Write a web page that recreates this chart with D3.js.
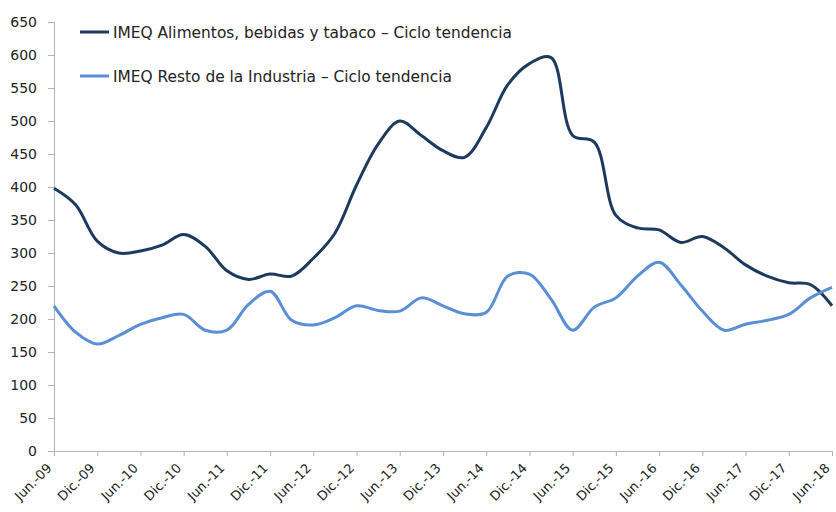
<!DOCTYPE html>
<html><head><meta charset="utf-8">
<script src="https://cdn.jsdelivr.net/npm/d3@7"></script>
<style>body{margin:0;background:#fff}svg{display:block}</style>
</head><body><svg id="c" width="836" height="512"></svg>
<script>
const tickLabels = ["Jun.-09","Dic.-09","Jun.-10","Dic.-10","Jun.-11","Dic.-11","Jun.-12","Dic.-12","Jun.-13","Dic.-13","Jun.-14","Dic.-14","Jun.-15","Dic.-15","Jun.-16","Dic.-16","Jun.-17","Dic.-17","Jun.-18"];
// quarterly observations, index 0 = Jun-09 ... 36 = Jun-18
const alimentos = [398,373,318,300,303,312,328,310,273,260,268,265,292,330,403,465,500,478,455,445,490,555,587,596,478,468,357,338,335,316,325,308,282,265,255,252,220];
const resto = [220,180,162,175,192,202,207,183,183,222,242,198,191,202,220,213,212,232,220,208,210,265,268,230,183,218,232,265,286,252,212,183,192,198,207,232,248];
const seriesNames = ["IMEQ Alimentos, bebidas y tabaco \u2013 Ciclo tendencia","IMEQ Resto de la Industria \u2013 Ciclo tendencia"];
const colors = ["#1c3a5e","#5a8fd6"];
const yTicks = d3.range(0,651,50);

const svg = d3.select("#c");
const x = d3.scaleLinear().domain([0,36]).range([54,832]);
const y = d3.scaleLinear().domain([0,650]).range([451,22]);
const font = "'DejaVu Sans', sans-serif";

// y axis
const ya = svg.append("g").attr("transform","translate(54,0)")
  .call(d3.axisLeft(y).tickValues(yTicks).tickSize(6).tickPadding(11));
ya.select(".domain").attr("stroke","#b3b3b3");
ya.selectAll(".tick line").attr("stroke","#b3b3b3");
ya.selectAll("text").attr("font-family",font).attr("font-size",14).attr("fill","#222");

// x axis
const xa = svg.append("g").attr("transform","translate(0,451)")
  .call(d3.axisBottom(x).tickValues(d3.range(0,37,2)).tickFormat((d,i)=>tickLabels[i]).tickSize(5).tickSizeOuter(0));
xa.select(".domain").attr("stroke","#b3b3b3");
xa.selectAll(".tick line").attr("stroke","#b3b3b3");
xa.selectAll("text").attr("font-family",font).attr("font-size",13).attr("fill","#222")
  .attr("text-anchor","end").attr("dy",0).attr("y",0)
  .attr("transform","translate(-2,18) rotate(-45)");

const line = d3.line().x((d,i)=>x(i)).y(d=>y(d)).curve(d3.curveCatmullRom.alpha(0.5));
[alimentos,resto].forEach((s,k)=>{
  svg.append("path").datum(s).attr("d",line).attr("fill","none")
    .attr("stroke",colors[k]).attr("stroke-width",3).attr("stroke-linejoin","round");
});

// legend
seriesNames.forEach((n,k)=>{
  const yy = k===0?32:76;
  svg.append("line").attr("x1",80).attr("x2",109).attr("y1",yy).attr("y2",yy)
    .attr("stroke",colors[k]).attr("stroke-width",3);
  svg.append("text").attr("x",113).attr("y",yy+5.5).text(n)
    .attr("font-family",font).attr("font-size",15.4).attr("fill","#222");
});
</script></body></html>
